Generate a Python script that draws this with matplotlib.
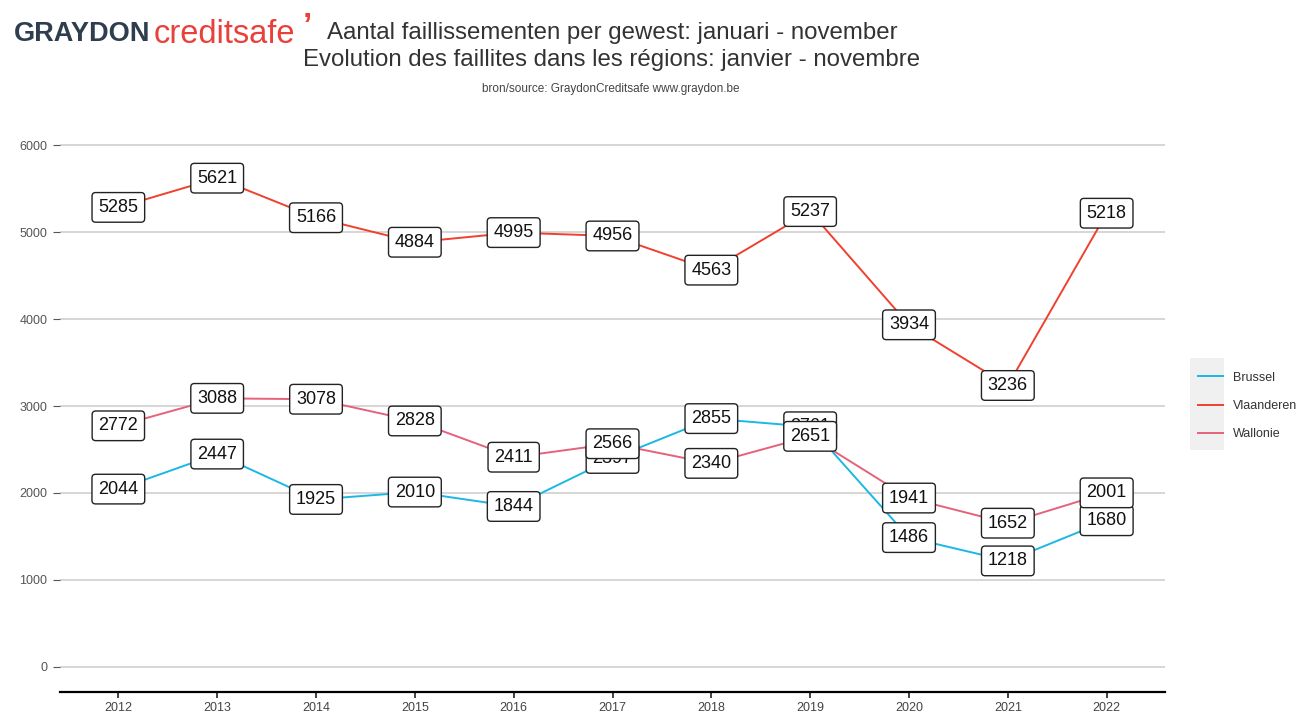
import numpy as np
import matplotlib.pyplot as plt

plt.rcParams['font.family'] = ['Liberation Sans', 'DejaVu Sans']

years = [2012, 2013, 2014, 2015, 2016, 2017, 2018, 2019, 2020, 2021, 2022]
brussel = [2044, 2447, 1925, 2010, 1844, 2397, 2855, 2761, 1486, 1218, 1680]
vlaanderen = [5285, 5621, 5166, 4884, 4995, 4956, 4563, 5237, 3934, 3236, 5218]
wallonie = [2772, 3088, 3078, 2828, 2411, 2566, 2340, 2651, 1941, 1652, 2001]

series = [("Brussel", brussel, "#1cb8e3"),
          ("Vlaanderen", vlaanderen, "#f0402f"),
          ("Wallonie", wallonie, "#e5627a")]

fig = plt.figure(figsize=(13.05, 7.17), dpi=100)
ax = fig.add_axes([0.046, 0.0349, 0.8467, 0.7977])

for name, vals, col in series:
    ax.plot(years, vals, color=col, lw=1.4, label=name, zorder=2)

# labels: Wallonie drawn last so it sits on top
for z, (name, vals, col) in enumerate(series):
    for x, v in zip(years, vals):
        ax.text(x, v, str(v), ha="center", va="center", fontsize=13, color="#111111",
                zorder=5 + z,
                bbox=dict(boxstyle="round,pad=0.35,rounding_size=0.2", fc="white", ec="#222222", lw=1))

ax.set_xlim(2011.41, 2022.59)
ax.set_ylim(-290, 6290)
ax.set_xticks(years)
ax.set_yticks([0, 1000, 2000, 3000, 4000, 5000, 6000])
ax.grid(axis="y", color="#d0d0d0", lw=1.2)
ax.set_axisbelow(True)
for s in ["top", "right", "left"]:
    ax.spines[s].set_visible(False)
ax.spines["bottom"].set_linewidth(1.6)
ax.tick_params(axis="y", length=5, color="#555555", labelsize=9, labelcolor="#555555", pad=4)
ax.tick_params(axis="x", length=4, color="#222222", width=1.2, labelsize=9, labelcolor="#444444")

leg = ax.legend(loc="center left", bbox_to_anchor=(1.02, 0.5), frameon=False, fontsize=9,
                handlelength=2.0, labelspacing=1.3)
for t in leg.get_texts():
    t.set_color("#333333")
# light grey panel behind the legend keys, like ggplot
fig.patches.append(plt.Rectangle((1190 / 1305, 1 - 450 / 717), 34 / 1305, 92 / 717,
                                 transform=fig.transFigure, fc="#f0f0f0", ec="none", zorder=-5))

fig.text(0.011, 0.952, "GRAYDON", fontsize=19.5, fontweight="bold", color="#2f3e4e", va="center")
fig.text(0.118, 0.952, "creditsafe", fontsize=23.5, color="#e8403a", va="center")
fig.text(0.232, 0.962, "\u2019", fontsize=24, color="#e8403a", va="center", fontweight="bold")
fig.text(0.469, 0.954, "Aantal faillissementen per gewest: januari - november",
         fontsize=17.3, color="#333333", ha="center", va="center")
fig.text(0.469, 0.916, "Evolution des faillites dans les r\u00e9gions: janvier - novembre",
         fontsize=17.3, color="#333333", ha="center", va="center")
fig.text(0.468, 0.876, "bron/source: GraydonCreditsafe www.graydon.be",
         fontsize=8.5, color="#444444", ha="center", va="center")

fig.savefig("out.png", dpi=100)
